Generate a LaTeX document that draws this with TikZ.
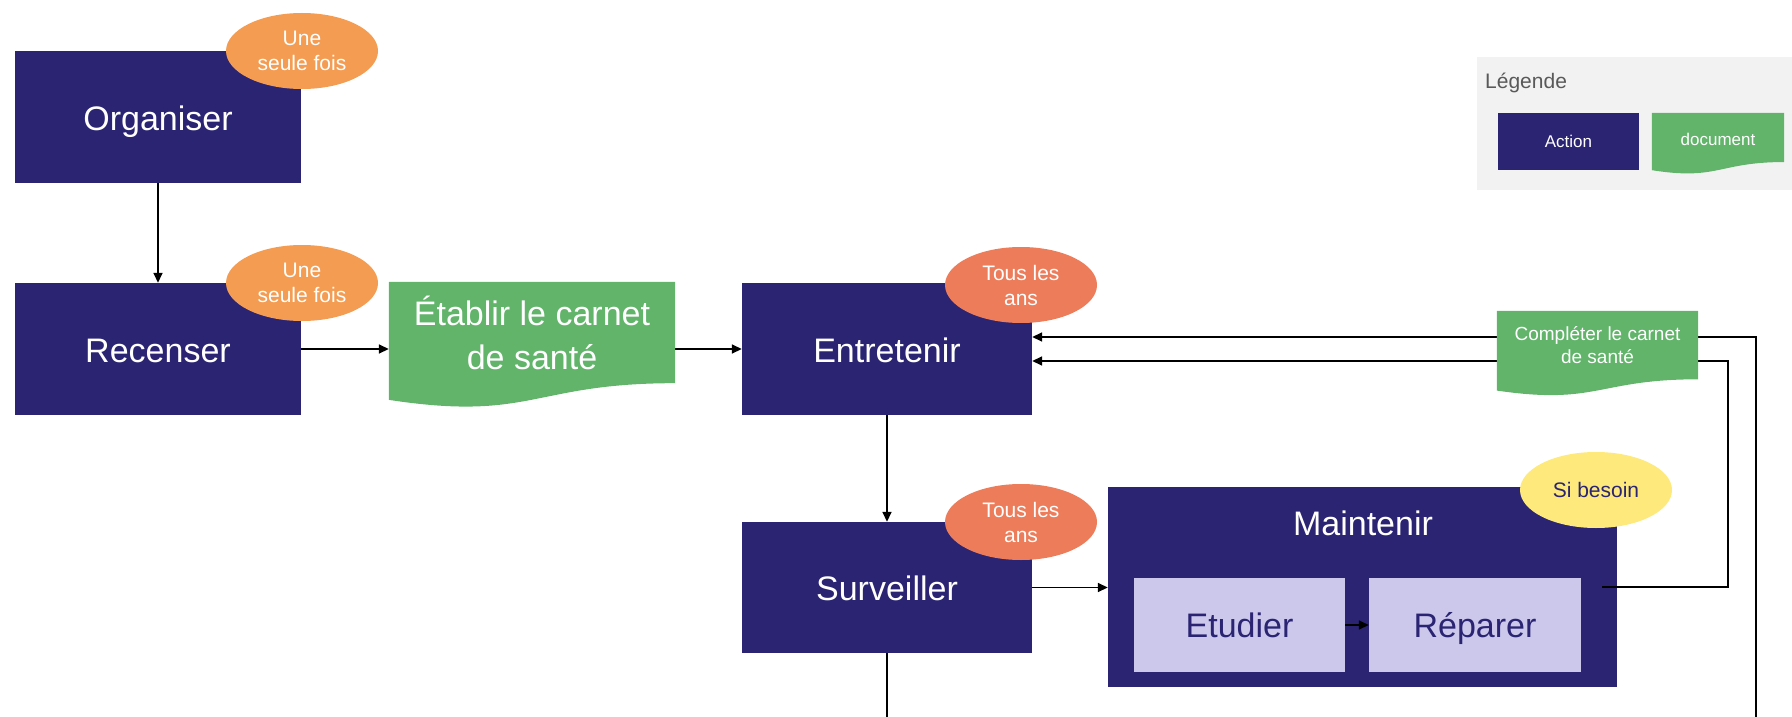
\documentclass[tikz,border=0pt]{standalone}
\usepackage{fontspec}
\setmainfont{Liberation Sans}
\usetikzlibrary{shapes.geometric,arrows.meta,calc}
\definecolor{navy}{HTML}{2A2472}
\definecolor{onceorange}{HTML}{F39C52}
\definecolor{coral}{HTML}{EC7C5A}
\definecolor{softyellow}{HTML}{FDE97C}
\definecolor{docgreen}{HTML}{61B46A}
\definecolor{lavender}{HTML}{CBC8EC}
\definecolor{legbg}{HTML}{F2F2F2}
\definecolor{leggray}{HTML}{595959}
\newcommand{\mydocfill}[2]{\fill[#2] (#1.north west) -- (#1.north east) -- ($(#1.north east)!0.802!(#1.south east)$) .. controls ($(#1.north)!0.802!(#1.south)$) and ($(#1.north)!1.107!(#1.south)$) .. ($(#1.north west)!0.934!(#1.south west)$) -- cycle;}
\begin{document}
\begin{tikzpicture}[x=1pt,y=-1pt,
  action/.style={fill=navy, text=white, inner sep=0pt, text height=26pt, text depth=0pt, font=\fontsize{34}{39}\selectfont},
  actiontext/.style={text=white, inner sep=0pt, font=\fontsize{34}{39}\selectfont},
  sub/.style={fill=lavender, text=navy, inner sep=0pt, minimum height=94pt, text height=24pt, text depth=0pt, font=\fontsize{34}{39}\selectfont},
  docframe/.style={inner sep=0pt},
  badge/.style={ellipse, inner sep=0pt, minimum width=152pt, minimum height=76pt, align=center, text=white, font=\fontsize{21}{25}\selectfont},
  arr/.style={line width=1.6pt, -{Triangle[length=10pt,width=9pt]}},
  plain/.style={line width=1.6pt}]
\useasboundingbox (0,0) rectangle (1792,717);
% action boxes
\node[action, minimum width=286pt, minimum height=132pt] (org) at (158,117) {Organiser};
\node[action, minimum width=286pt, minimum height=132pt] (rec) at (158,349) {Recenser};
\node[action, minimum width=290pt, minimum height=132pt] (ent) at (887,349) {Entretenir};
\node[action, minimum width=290pt, minimum height=131pt] (surv) at (887,587.5) {Surveiller};
\node[fill=navy, inner sep=0pt, minimum width=509pt, minimum height=200pt] (maint) at (1362.5,587) {};
\node[actiontext] (maintlbl) at (1363,523) {Maintenir};
\node[sub, minimum width=211pt] (etud) at (1239.5,625) {Etudier};
\node[sub, minimum width=212pt] (rep) at (1475,625) {Réparer};
% document frames
\node[docframe, minimum width=286pt, minimum height=126pt] (etab) at (532,345) {};
\node[docframe, minimum width=201pt, minimum height=85pt] (compl) at (1597.5,353.5) {};
% connectors
\coordinate (repout) at (1602,587);
\coordinate (loopa) at (1728,361);
\coordinate (loopbot) at (1756,717);
\coordinate (loopb) at (1756,337);
\coordinate (survbot) at (887,717);
\draw[arr] (org) -- (rec);
\draw[arr] (rec.east) -- (rec.east -| etab.west);
\draw[arr] (etab.east |- ent.west) -- (ent.west);
\draw[arr] (ent.south) -- (surv.north);
\draw[arr] (surv.east) -- (surv.east -| maint.west);
\draw[arr] (etud.east) -- (rep.west);
\draw[arr] (repout) -| (loopa) -- (loopa -| ent.east);
\draw[arr] (loopbot) -- (loopb) -- (loopb -| ent.east);
\draw[plain] (surv.south) -- (survbot);
% document shapes
\mydocfill{etab}{docgreen}
\mydocfill{compl}{docgreen}
\node[text=white, align=center, inner sep=0pt, font=\fontsize{34}{44}\selectfont] (etabtxt) at (532,333) {Établir le carnet\\de santé};
\node[text=white, align=center, inner sep=0pt, font=\fontsize{19}{23}\selectfont] (compltxt) at (1597.5,345) {Compléter le carnet\\de santé};
% badges
\node[badge, fill=onceorange] (once1) at (302,51) {Une\\seule fois};
\node[badge, fill=onceorange] (once2) at (302,283) {Une\\seule fois};
\node[badge, fill=coral] (yearly1) at (1021,285) {Tous les\\ans};
\node[badge, fill=coral] (yearly2) at (1021,522) {Tous les\\ans};
\node[badge, fill=softyellow, text=navy] (ifneed) at (1596,490) {Si besoin};
% legend
\node[fill=legbg, inner sep=0pt, minimum width=315pt, minimum height=133pt, anchor=north west] (legend) at (1477,57) {};
\node[text=leggray, inner sep=0pt, anchor=west, font=\fontsize{21}{25}\selectfont] (legtitle) at (1485,83) {Légende};
\node[fill=navy, text=white, inner sep=0pt, minimum width=141pt, minimum height=57pt, font=\fontsize{17}{20}\selectfont] (legact) at (1568.5,141.5) {Action};
\node[docframe, minimum width=132pt, minimum height=61pt] (legdoc) at (1718,143.5) {};
\mydocfill{legdoc}{docgreen}
\node[text=white, inner sep=0pt, font=\fontsize{17}{20}\selectfont] (legdoctxt) at (1718,139) {document};
\end{tikzpicture}
\end{document}
